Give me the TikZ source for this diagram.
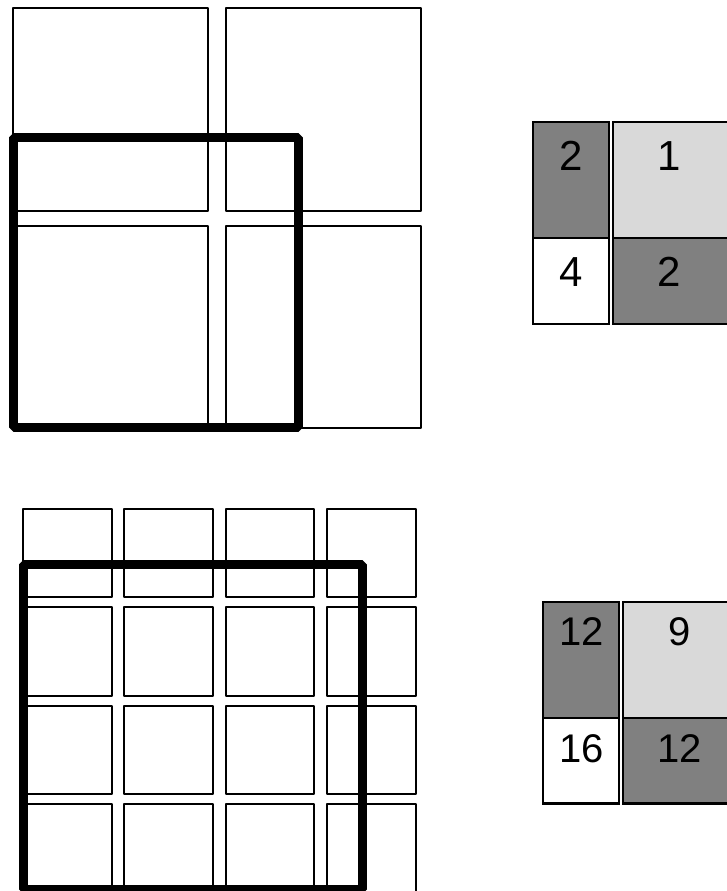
\documentclass[tikz,border=0pt]{standalone}
\usepackage{fontspec}
\setmainfont{Liberation Sans}
\begin{document}
\begin{tikzpicture}[x=1pt,y=-1pt,
  cell/.style={draw=black,line width=2pt,line join=round,fill=white},
  frame/.style={draw=black,line width=9.5pt,line join=bevel},
  tcell/.style={draw=black,line width=2.3pt},
  darkc/.style={tcell,fill=black!50},
  lightc/.style={tcell,fill=black!15},
  whitec/.style={tcell,fill=white},
  bignum/.style={anchor=base,inner sep=0pt,font=\fontsize{42}{50}\selectfont},
  midnum/.style={anchor=base,inner sep=0pt,font=\fontsize{40}{48}\selectfont}]
\useasboundingbox (0,0) rectangle (727,891);
% ---- top-left 2x2 grid
\foreach \x/\xx in {13/208.3,226/420.7}
  \foreach \y/\yy in {8.3/210.7,226/428}
    \path[cell] (\x,\y) rectangle (\xx,\yy);
\path[frame] (13.3,137.7) rectangle (298.3,427.7);
% ---- top-right table
\path[darkc]  (533.3,122.3) rectangle (609.3,238.3);
\path[whitec] (533.3,238.3) rectangle (609.3,324);
\path[lightc] (612.7,122.3) rectangle (731,238.3);
\path[darkc]  (612.7,238.3) rectangle (731,324);
\node[bignum] (a1) at (571.3,170) {2};
\node[bignum] (a2) at (669,170) {1};
\node[bignum] (a3) at (571.3,286.3) {4};
\node[bignum] (a4) at (669,286.3) {2};
% ---- bottom-left 4x4 grid
\foreach \x/\xx in {23.3/111.7,124.3/212.7,225.7/314.3,326.7/415.7}
  \foreach \y/\yy in {509/597.3,607.3/695.7,706/794.3,804.3/892.7}
    \path[cell] (\x,\y) rectangle (\xx,\yy);
\path[frame] (23.3,564.5) rectangle (362.5,889.5);
% ---- bottom-right table
\path[darkc]  (543.3,601.7) rectangle (619.3,717.7);
\path[whitec] (543.3,717.7) rectangle (619.3,803.4);
\path[lightc] (622.7,601.7) rectangle (741,717.7);
\path[darkc]  (622.7,717.7) rectangle (741,803.4);
\node[midnum] (b1) at (581.3,645.7) {12};
\node[midnum] (b2) at (679.5,645.7) {9};
\node[midnum] (b3) at (581.3,762.5) {16};
\node[midnum] (b4) at (679.5,762.5) {12};
\end{tikzpicture}
\end{document}
